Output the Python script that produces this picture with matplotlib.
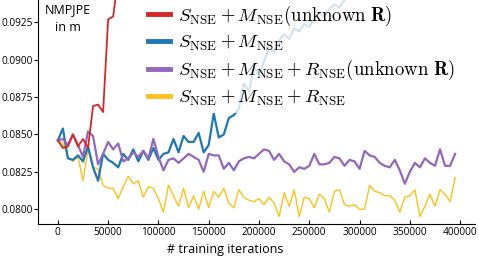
import matplotlib
matplotlib.use('Agg')
import matplotlib.pyplot as plt
import numpy as np

plt.rcParams['font.family'] = ['Open Sans', 'DejaVu Sans']
plt.rcParams['mathtext.fontset'] = 'cm'

step = 5000

# S_NSE + M_NSE (unknown R)
red = [0.0846, 0.0841, 0.0842, 0.0850, 0.0842, 0.0847, 0.0841, 0.0869, 0.0870,
       0.0865, 0.0927, 0.0929, 0.0955]

# S_NSE + M_NSE
blue = [0.0846, 0.0854, 0.0834, 0.0833, 0.0836, 0.0832, 0.0842, 0.0828, 0.0819,
        0.0837, 0.0833, 0.0831, 0.0828, 0.0837, 0.0833, 0.0840, 0.0832, 0.0839,
        0.0833, 0.0841, 0.0833, 0.0837, 0.0838, 0.0847, 0.0838, 0.0849, 0.0845,
        0.0845, 0.0851, 0.0838, 0.0843, 0.0864, 0.0848, 0.0850, 0.0861, 0.0863,
        0.0867, 0.0884, 0.0879, 0.0895, 0.0890, 0.0899, 0.0908, 0.0905, 0.0913,
        0.0917, 0.0914, 0.0921, 0.0919, 0.0924, 0.0922, 0.0928, 0.0931, 0.0929,
        0.0934, 0.0937, 0.0935, 0.0940, 0.0943]

# S_NSE + M_NSE + R_NSE (unknown R)
purple = [0.0846, 0.0847, 0.0843, 0.0850, 0.0843, 0.0835, 0.0852, 0.0849, 0.0830,
          0.0837, 0.0845, 0.0840, 0.0844, 0.0832, 0.0834, 0.0838, 0.0835, 0.0839,
          0.0834, 0.0847, 0.0835, 0.0826, 0.0833, 0.0834, 0.0831, 0.0834, 0.0837,
          0.0835, 0.0833, 0.0825, 0.0837, 0.0836, 0.0836, 0.0827, 0.0831, 0.0826,
          0.0832, 0.0834, 0.0835, 0.0834, 0.0837, 0.0840, 0.0839, 0.0833, 0.0837,
          0.0832, 0.0830, 0.0825, 0.0828, 0.0827, 0.0829, 0.0837, 0.0830, 0.0830,
          0.0831, 0.0835, 0.0834, 0.0829, 0.0833, 0.0832, 0.0827, 0.0839, 0.0836,
          0.0835, 0.0831, 0.0829, 0.0828, 0.0833, 0.0826, 0.0817, 0.0825, 0.0831,
          0.0828, 0.0834, 0.0831, 0.0829, 0.0840, 0.0829, 0.0829, 0.0837]

# S_NSE + M_NSE + R_NSE
yellow = [0.0846, 0.0844, 0.0835, 0.0832, 0.0835, 0.0819, 0.0840, 0.0828, 0.0827,
          0.0816, 0.0814, 0.0814, 0.0807, 0.0815, 0.0822, 0.0817, 0.0819, 0.0808,
          0.0815, 0.0814, 0.0807, 0.0798, 0.0816, 0.0809, 0.0802, 0.0814, 0.0801,
          0.0809, 0.0800, 0.0812, 0.0801, 0.0812, 0.0808, 0.0814, 0.0804, 0.0801,
          0.0813, 0.0808, 0.0806, 0.0805, 0.0807, 0.0803, 0.0808, 0.0804, 0.0795,
          0.0811, 0.0802, 0.0813, 0.0795, 0.0808, 0.0807, 0.0801, 0.0810, 0.0807,
          0.0798, 0.0812, 0.0813, 0.0803, 0.0802, 0.0803, 0.0800, 0.0800, 0.0816,
          0.0812, 0.0811, 0.0809, 0.0809, 0.0806, 0.0798, 0.0808, 0.0809, 0.0813,
          0.0795, 0.0802, 0.0810, 0.0802, 0.0813, 0.0810, 0.0805, 0.0821]

labels = [r'$S_{\mathrm{NSE}}+M_{\mathrm{NSE}}(\mathrm{unknown}\ \mathbf{R})$',
          r'$S_{\mathrm{NSE}}+M_{\mathrm{NSE}}$',
          r'$S_{\mathrm{NSE}}+M_{\mathrm{NSE}}+R_{\mathrm{NSE}}(\mathrm{unknown}\ \mathbf{R})$',
          r'$S_{\mathrm{NSE}}+M_{\mathrm{NSE}}+R_{\mathrm{NSE}}$']

fig = plt.figure(figsize=(4.79, 2.57), dpi=100)
ax = fig.add_axes([0.0793, 0.128, 0.9123, 0.872])

def xs(v):
    return np.arange(len(v)) * step

l4, = ax.plot(xs(yellow), yellow, color='#fcc21b', lw=1.0)
l2, = ax.plot(xs(blue), blue, color='#1f77b4', lw=1.6)
l3, = ax.plot(xs(purple), purple, color='#9467bd', lw=1.6)
l1, = ax.plot(xs(red), red, color='#d62728', lw=1.3)

ax.set_ylim(0.0790, 0.0940)
ax.set_xlim(-19750, 414750)
ax.set_yticks([0.0800, 0.0825, 0.0850, 0.0875, 0.0900, 0.0925])
ax.set_yticklabels(['0.0800', '0.0825', '0.0850', '0.0875', '0.0900', '0.0925'])
ax.set_xticks([0, 50000, 100000, 150000, 200000, 250000, 300000, 350000, 400000])

ax.spines['top'].set_visible(False)
ax.spines['right'].set_visible(False)
ax.tick_params(axis='y', direction='out', length=3, width=0.8, pad=1, labelsize=7.3)
ax.tick_params(axis='x', direction='in', length=3, width=0.8, pad=2, labelsize=7.3)

ax.set_xlabel('# training iterations', fontsize=9, labelpad=0)
ax.xaxis.set_label_coords(0.428, -0.085)
ax.text(0.069, 0.985, 'NMPJPE\nin m', transform=ax.transAxes, ha='center', va='top',
        fontsize=9, linespacing=1.5)

leg = ax.legend([l1, l2, l3, l4], labels, loc='upper left', bbox_to_anchor=(0.218, 1.05),
                fontsize=13.5, frameon=True, framealpha=0.8, edgecolor='none',
                handlelength=1.15, handletextpad=0.45, labelspacing=0.27, borderpad=0.3)
for h in leg.legend_handles:
    h.set_linewidth(3.5)

fig.savefig('out.png', dpi=100)
